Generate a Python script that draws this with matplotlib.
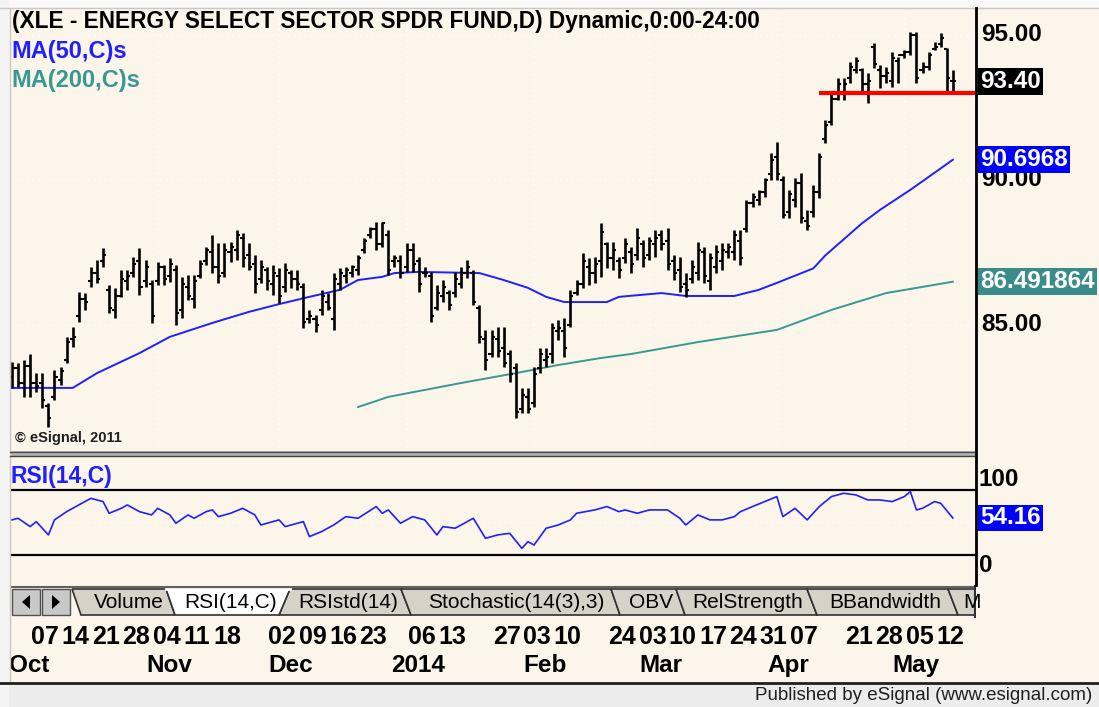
import matplotlib

matplotlib.use("Agg")
import matplotlib.pyplot as plt
import numpy as np
import pandas as pd
from matplotlib.patches import Polygon, Rectangle
from matplotlib.transforms import blended_transform_factory

plt.rcParams["font.family"] = ["Liberation Sans", "DejaVu Sans"]

# ---- data --------------------------------------------------------------------
FIRST_DAY, LAST_DAY = "2013-09-30", "2014-05-13"
HOLIDAYS = ["2013-11-28", "2013-12-25", "2014-01-01", "2014-01-20", "2014-02-17", "2014-04-18"]

highs = [
    83.74, 83.68, 83.79, 84.00, 83.33, 83.33, 82.30, 83.45, 83.56, 84.60,
    84.94, 86.15, 86.09, 87.01, 87.24, 87.64, 86.38, 86.26, 86.90, 86.90,
    87.36, 87.64, 87.24, 86.55, 87.18, 87.07, 87.30, 87.07, 86.67, 86.72,
    86.72, 87.24, 87.70, 88.10, 87.82, 87.82, 87.87, 88.28, 88.16, 87.82,
    87.41, 87.24, 87.01, 87.07, 86.95, 87.13, 86.90, 86.90, 86.44, 85.52,
    85.34, 86.21, 86.09, 86.78, 86.95, 87.01, 87.07, 87.41, 87.99, 88.39,
    88.56, 88.56, 88.28, 87.41, 87.41, 87.82, 87.82, 87.36, 87.01, 86.84,
    86.38, 86.55, 86.21, 86.84, 87.01, 87.24, 86.90, 85.69, 84.83, 84.83,
    84.94, 84.94, 84.14, 83.68, 82.82, 82.82, 83.56, 84.20, 84.20, 85.06,
    85.17, 85.23, 86.21, 86.55, 87.47, 87.30, 87.36, 88.51, 87.87, 87.87,
    87.36, 87.99, 87.70, 88.33, 87.93, 88.05, 88.27, 88.27, 88.33, 87.41,
    87.36, 86.78, 87.24, 87.87, 87.70, 87.47, 87.76, 87.82, 87.82, 88.27,
    88.27, 89.31, 89.54, 89.66, 90.06, 90.92, 91.32, 90.12, 89.66, 90.06,
    90.23, 88.97, 89.83, 90.92, 92.07, 92.99, 93.51, 93.51, 94.08, 94.25,
    93.85, 93.68, 94.71, 93.97, 93.91, 94.42, 94.25, 94.48, 95.11, 95.11,
    94.08, 94.42, 94.77, 95.06, 94.54, 93.79,
]
lows = [
    82.82, 82.87, 82.53, 82.53, 82.70, 82.13, 81.49, 82.41, 82.93, 83.68,
    84.25, 85.11, 85.52, 86.32, 86.44, 87.01, 85.40, 85.23, 85.98, 86.21,
    86.67, 86.03, 86.32, 85.06, 86.38, 86.38, 86.49, 85.00, 85.23, 85.86,
    85.57, 86.61, 87.07, 86.78, 86.44, 86.67, 87.18, 87.24, 87.01, 86.90,
    86.09, 86.44, 86.21, 86.03, 85.75, 86.15, 86.26, 86.21, 84.88, 85.06,
    84.77, 85.34, 85.52, 84.83, 86.21, 86.44, 86.67, 86.72, 87.47, 87.99,
    87.59, 87.70, 86.72, 87.01, 86.61, 86.84, 86.84, 86.15, 86.67, 85.11,
    85.52, 85.80, 85.52, 85.98, 86.26, 86.61, 85.69, 84.37, 83.45, 83.91,
    83.91, 83.56, 83.05, 81.78, 81.95, 81.95, 82.18, 83.33, 83.56, 83.68,
    84.48, 83.91, 84.94, 86.03, 86.26, 86.38, 86.44, 86.67, 86.95, 86.90,
    86.61, 87.13, 86.78, 87.24, 87.01, 87.24, 87.36, 87.59, 86.90, 86.55,
    86.15, 85.98, 86.44, 86.55, 86.44, 86.21, 86.78, 86.90, 87.30, 87.24,
    87.07, 88.22, 89.08, 89.14, 89.43, 90.00, 90.00, 88.68, 88.68, 89.08,
    88.51, 88.28, 88.74, 89.37, 91.26, 91.90, 92.76, 92.76, 93.33, 93.68,
    92.99, 92.64, 93.85, 93.16, 93.33, 93.22, 93.33, 94.20, 94.31, 93.33,
    93.68, 93.79, 94.48, 94.60, 92.99, 92.99,
]
opens = [
    83.2, 83.5, 83.0, 83.6, 83.0, 83.0, 82.2, 82.5, 83.1, 83.8,
    84.5, 85.3, 85.9, 86.5, 86.8, 87.2, 86.2, 85.5, 86.0, 86.5,
    86.8, 87.2, 86.5, 86.4, 86.5, 87.0, 86.7, 86.9, 85.5, 86.3,
    85.9, 86.7, 87.2, 87.5, 87.0, 86.8, 87.5, 87.6, 88.0, 87.4,
    87.1, 86.6, 86.9, 86.4, 86.7, 86.3, 86.8, 86.6, 86.3, 85.2,
    85.2, 85.5, 85.8, 85.2, 86.4, 86.7, 86.8, 86.9, 87.6, 88.1,
    88.3, 87.8, 88.1, 87.2, 87.2, 87.0, 87.6, 87.2, 86.8, 86.7,
    85.6, 86.0, 86.1, 86.1, 86.4, 86.8, 86.8, 85.6, 84.5, 84.0,
    84.5, 84.2, 84.0, 83.5, 82.1, 82.5, 82.3, 83.5, 83.8, 84.0,
    84.8, 84.8, 85.0, 86.1, 86.4, 87.0, 86.8, 87.2, 87.8, 87.3,
    87.2, 87.3, 87.5, 87.4, 87.8, 87.4, 87.8, 88.1, 87.9, 87.2,
    86.9, 86.4, 86.6, 86.8, 87.5, 86.5, 87.0, 87.2, 87.5, 87.5,
    87.9, 88.3, 89.2, 89.3, 89.6, 90.2, 90.8, 90.0, 88.9, 89.3,
    89.9, 88.6, 88.9, 89.6, 91.4, 92.0, 92.8, 93.0, 93.5, 93.8,
    93.8, 93.3, 94.6, 93.8, 93.6, 93.4, 94.1, 94.3, 94.4, 95.0,
    93.8, 93.9, 94.5, 94.7, 94.5, 93.4,
]
closes = [
    83.5, 83.0, 83.6, 83.0, 82.9, 82.4, 81.8, 83.2, 83.4, 84.4,
    84.6, 85.9, 85.8, 86.8, 86.6, 87.4, 85.6, 86.0, 86.6, 86.7,
    87.1, 86.3, 87.0, 85.3, 87.0, 86.6, 87.1, 85.4, 86.4, 86.0,
    86.5, 87.1, 87.6, 87.0, 86.7, 87.6, 87.7, 88.1, 87.3, 87.0,
    86.4, 87.0, 86.5, 86.8, 86.0, 86.9, 86.6, 86.4, 85.1, 85.3,
    85.0, 86.0, 85.6, 86.6, 86.8, 86.9, 87.0, 87.3, 87.9, 88.3,
    87.8, 88.5, 86.9, 87.3, 86.8, 87.6, 87.1, 86.4, 86.8, 85.3,
    86.1, 86.3, 85.7, 86.6, 86.8, 87.0, 85.8, 84.6, 83.8, 84.6,
    84.1, 83.7, 83.3, 82.0, 82.6, 82.1, 83.3, 84.0, 83.9, 84.9,
    84.9, 84.2, 86.0, 86.4, 87.2, 86.8, 87.1, 88.2, 87.3, 87.6,
    86.9, 87.8, 87.1, 88.0, 87.3, 87.9, 88.0, 87.8, 87.1, 86.8,
    86.3, 86.2, 87.0, 87.6, 86.7, 87.3, 87.5, 87.6, 87.7, 88.1,
    87.3, 89.2, 89.4, 89.6, 90.0, 90.7, 90.2, 88.8, 89.5, 89.9,
    88.7, 88.4, 89.6, 90.8, 91.9, 92.8, 93.3, 93.3, 93.9, 94.1,
    93.3, 93.4, 94.0, 93.6, 93.7, 94.2, 94.3, 94.4, 95.0, 93.5,
    93.9, 94.3, 94.6, 94.9, 93.5, 93.40,
]

ma50_bars = [0, 10, 14, 21, 26, 33, 39, 44, 49, 54, 57, 61, 63, 67, 77, 81,
             85, 88, 91, 98, 100, 107, 111, 119, 123, 126, 132, 134, 140, 143, 148, 155]
ma50_vals = [82.83, 82.83, 83.34, 84.03, 84.59, 85.07, 85.45, 85.72, 85.97, 86.21,
             86.55, 86.66, 86.79, 86.83, 86.79, 86.55, 86.28, 85.97, 85.79, 85.79,
             85.97, 86.10, 86.00, 86.00, 86.21, 86.45, 86.95, 87.40, 88.50, 88.97,
             89.66, 90.6968]
ma200_bars = [57, 62, 74, 83, 90, 97, 102, 113, 126, 135, 144, 155]
ma200_vals = [82.17, 82.52, 83.00, 83.34, 83.62, 83.86, 84.00, 84.41, 84.83, 85.52,
              86.10, 86.491864]

rsi_bars = [0, 1, 3, 4, 6, 7, 9, 11, 13, 15, 16, 18, 19, 21, 23, 24, 26, 27, 29, 30,
            32, 33, 34, 36, 38, 40, 41, 44, 45, 48, 49, 51, 53, 55, 57, 60, 61, 62, 64, 66,
            68, 70, 71, 73, 74, 76, 78, 80, 82, 84, 85, 86, 88, 90, 92, 93, 96, 98, 100, 101,
            103, 105, 108, 110, 111, 113, 115, 117, 119, 120, 122, 124, 126, 127, 129, 131, 133, 135, 137, 139,
            141, 143, 145, 147, 148, 149, 150, 152, 153, 155]
rsi_vals = [52.4, 53.9, 46.2, 50.8, 38.5, 52.4, 60.0, 66.2, 72.3, 69.3, 58.5, 63.1, 66.2, 60.0, 57.0, 63.1, 57.0, 49.3, 57.0, 53.9,
            60.0, 61.6, 55.4, 58.5, 63.1, 57.0, 47.7, 52.4, 46.2, 50.8, 37.0, 41.6, 47.7, 55.4, 53.9, 64.7, 58.5, 61.6, 49.3, 55.4,
            52.4, 38.5, 46.2, 44.7, 47.7, 53.9, 35.4, 38.5, 40.0, 26.1, 32.3, 29.2, 44.7, 47.7, 52.4, 58.5, 61.6, 64.7, 60.0, 61.6,
            58.5, 61.6, 61.6, 54.0, 47.7, 57.0, 52.4, 52.4, 55.4, 60.0, 64.7, 69.3, 73.9, 55.4, 63.1, 52.4, 64.7, 73.9, 77.0, 75.5,
            70.8, 70.8, 69.3, 73.9, 78.5, 61.6, 63.1, 69.3, 67.7, 54.16]
rsi_bands = [80, 20]

support_level = 93.0
support_from = "2014-04-10"
last_close = 93.40

day_ticks = ["2013-10-07", "2013-10-14", "2013-10-21", "2013-10-28", "2013-11-04", "2013-11-11",
             "2013-11-18", "2013-12-02", "2013-12-09", "2013-12-16", "2013-12-23", "2014-01-06",
             "2014-01-13", "2014-01-27", "2014-02-03", "2014-02-10", "2014-02-24", "2014-03-03",
             "2014-03-10", "2014-03-17", "2014-03-24", "2014-03-31", "2014-04-07", "2014-04-21",
             "2014-04-28", "2014-05-05", "2014-05-12"]
month_labels = ["Oct", "Nov", "Dec", "2014", "Feb", "Mar", "Apr", "May"]
price_ticks = [95.0, 90.0, 85.0]
tab_names = ["Volume", "RSI(14,C)", "RSIstd(14)", "Stochastic(14(3),3)", "OBV",
             "RelStrength", "BBandwidth", "M"]

# ---- layout ------------------------------------------------------------------
W, H = 1099, 707
CREAM = "#FCF6EA"
BLUE = "#1F1FFF"
TEAL = "#3A9893"
BAR_PX, BAR0_PX = 6.07, 12.0
LEFT_PX, RIGHT_PX = 10, 976

dates = pd.bdate_range(FIRST_DAY, LAST_DAY)
dates = dates[~dates.isin(pd.to_datetime(HOLIDAYS))]
idx = np.arange(len(dates))
xlim = ((LEFT_PX - BAR0_PX) / BAR_PX, (RIGHT_PX - BAR0_PX) / BAR_PX)

fig = plt.figure(figsize=(W / 100, H / 100), dpi=100)
fig.patch.set_facecolor(CREAM)


def px_axes(x0, y0, x1, y1, zorder=1):
    ax = fig.add_axes([x0 / W, 1 - y1 / H, (x1 - x0) / W, (y1 - y0) / H], zorder=zorder)
    return ax


bg = px_axes(0, 0, W, H, zorder=0)
bg.set_xlim(0, W)
bg.set_ylim(H, 0)
bg.axis("off")
bg.add_patch(Rectangle((0, 0), W, 7, fc="#FAFAFA", ec="none"))
bg.add_patch(Rectangle((0, 0), 9, H, fc="#F4F4F4", ec="none"))
bg.add_patch(Rectangle((9, 684), W, 30, fc="#ECECEC", ec="none"))

# ---- price panel ----------------------------------------------------------------
ax_p = px_axes(LEFT_PX, 8, RIGHT_PX, 452)
ax_p.set_facecolor(CREAM)
ax_p.set_xlim(*xlim)
ax_p.set_ylim(80.62, 95.93)
ax_p.axis("off")
ax_p.patch.set_visible(True)

# first trading day of each month (Oct 1 is the first one after Sep 30)
month_start = [i for i in idx[1:] if dates[i].month != dates[i - 1].month]
for lvl in price_ticks:
    ax_p.axhline(lvl, color="white", lw=1, ls=(0, (1, 3)), zorder=0)
for i in month_start[1:]:
    ax_p.axvline(i, color="white", lw=1, ls=(0, (1, 3)), zorder=0)

ax_p.vlines(idx, lows, highs, color="black", lw=1.9, zorder=3)
ax_p.hlines(opens, idx - 0.5, idx, color="black", lw=1.5, zorder=3)
ax_p.hlines(closes, idx, idx + 0.5, color="black", lw=1.5, zorder=3)
ax_p.plot(ma50_bars, ma50_vals, color=BLUE, lw=1.4, zorder=2)
ax_p.plot(ma200_bars, ma200_vals, color=TEAL, lw=1.4, zorder=2)
sup_i = int(np.searchsorted(dates, pd.Timestamp(support_from)))
ax_p.hlines(support_level, sup_i, xlim[1], color="#FF0000", lw=3, zorder=4)

# ---- RSI panel ------------------------------------------------------------------
ax_r = px_axes(LEFT_PX, 456, RIGHT_PX, 584)
ax_r.set_facecolor(CREAM)
ax_r.set_xlim(*xlim)
ax_r.set_ylim(-6.8, 111.4)
ax_r.axis("off")
ax_r.patch.set_visible(True)
ax_r.axhline(50, color="white", lw=1, ls=(0, (1, 3)), zorder=0)
for b in rsi_bands:
    ax_r.axhline(b, color="black", lw=1.6, zorder=1)
ax_r.plot(rsi_bars, rsi_vals, color=BLUE, lw=1.2, zorder=2)

# ---- overlay: frame, labels -----------------------------------------------------
ov = px_axes(0, 0, W, H, zorder=5)
ov.set_xlim(0, W)
ov.set_ylim(H, 0)
ov.axis("off")
ov.plot([0, W], [7.5, 7.5], color="#C8C8C8", lw=1)
ov.plot([9.5, 9.5], [8, 684], color="#C8C8C8", lw=1)
ov.add_patch(Rectangle((LEFT_PX, 451), RIGHT_PX - LEFT_PX, 5, fc="#B4B4B4", ec="none"))
ov.plot([LEFT_PX, RIGHT_PX], [451.5, 451.5], color="#505050", lw=1)
ov.plot([LEFT_PX, RIGHT_PX], [455.5, 455.5], color="#404040", lw=1)
ov.plot([RIGHT_PX, RIGHT_PX], [8, 585], color="black", lw=2)
ov.plot([0, W], [683, 683], color="#202020", lw=2)

bold = dict(fontweight="bold")
ov.text(12, 28, "(XLE - ENERGY SELECT SECTOR SPDR FUND,D) Dynamic,0:00-24:00",
        fontsize=16.3, color="black", va="baseline", **bold)
ov.text(11, 58, "MA(50,C)s", fontsize=17, color=BLUE, va="baseline", **bold)
ov.text(11, 87, "MA(200,C)s", fontsize=17, color=TEAL, va="baseline", **bold)
ov.text(11, 483, "RSI(14,C)", fontsize=16.5, color=BLUE, va="baseline", **bold)
ov.text(15, 438, "\u00a9 eSignal, 2011", fontsize=10.5, color="#202020", va="center", **bold)
ov.text(1092, 696, "Published by eSignal (www.esignal.com)", fontsize=13.5,
        color="#202020", ha="right", va="center")

tr_p = blended_transform_factory(ov.transData, ax_p.transData)
tr_r = blended_transform_factory(ov.transData, ax_r.transData)
for lvl in price_ticks:
    ov.text(981, lvl, f"{lvl:.2f}", transform=tr_p, fontsize=17.5, va="center", **bold)
ov.text(979, 100, "100", transform=tr_r, fontsize=17.5, va="top", **bold)
ov.text(979, 0, "0", transform=tr_r, fontsize=17.5, va="bottom", **bold)

box = dict(boxstyle="square,pad=0.08", ec="none")
ov.text(980, last_close, f"{last_close:.2f}", transform=tr_p, fontsize=17.5, va="center",
        color="white", bbox=dict(box, fc="black"), zorder=6, **bold)
ov.text(980, ma50_vals[-1], f"{ma50_vals[-1]:.4f}", transform=tr_p, fontsize=17.5,
        va="center", color="white", bbox=dict(box, fc="#0000FF"), zorder=6, **bold)
ov.text(980, ma200_vals[-1], f"{ma200_vals[-1]:.6f}", transform=tr_p, fontsize=17.5,
        va="center", color="white", bbox=dict(box, fc="#3A8C8A"), zorder=6, **bold)
ov.text(980, rsi_vals[-1], f"{rsi_vals[-1]:.2f}", transform=tr_r, fontsize=17.5,
        va="center", color="white", bbox=dict(box, fc="#0000FF"), zorder=6, **bold)

# ---- tab strip --------------------------------------------------------------------
ax_t = px_axes(LEFT_PX, 585, RIGHT_PX, 618, zorder=4)
ax_t.set_xlim(LEFT_PX, RIGHT_PX)
ax_t.set_ylim(618, 585)
ax_t.axis("off")
ax_t.plot([LEFT_PX, RIGHT_PX], [586.5, 586.5], color="#606060", lw=1.5)
for x0 in (12, 42):
    ax_t.add_patch(Rectangle((x0, 589), 28, 26, fc="#C8C8C8", ec="#505050", lw=1))
ax_t.add_patch(Polygon([(30, 595), (30, 609), (22, 602)], fc="black", ec="none"))
ax_t.add_patch(Polygon([(52, 595), (52, 609), (60, 602)], fc="black", ec="none"))

tab_shapes = [
    [(72, 589), (166, 589), (175, 615), (81, 615)],
    [(166, 589), (290, 589), (279, 615), (175, 615)],
    [(290, 589), (401, 589), (411, 615), (279, 615)],
    [(401, 589), (611, 589), (620, 615), (411, 615)],
    [(611, 589), (676, 589), (685, 615), (620, 615)],
    [(676, 589), (807, 589), (817, 615), (685, 615)],
    [(807, 589), (948, 589), (958, 615), (817, 615)],
    [(948, 589), (1000, 589), (1000, 615), (958, 615)],
]
tab_text_x = [129, 231, 348, 516, 651, 748, 885, 972]
active = 1
for k, (name, shape, tx) in enumerate(zip(tab_names, tab_shapes, tab_text_x)):
    if k == active:
        continue
    ax_t.add_patch(Polygon(shape, fc="#D6D2C8", ec="#303030", lw=1.2))
    ax_t.text(tx, 603, name, fontsize=15, ha="center", va="center")
ax_t.add_patch(Polygon(tab_shapes[active], fc="white", ec="#303030", lw=1.2, zorder=3))
ax_t.plot([tab_shapes[active][0][0], tab_shapes[active][1][0]], [589, 589],
          color="white", lw=2, zorder=4)
ax_t.text(tab_text_x[active], 603, tab_names[active], fontsize=15, ha="center",
          va="center", zorder=5)
ax_t.plot([975, 975], [586, 617], color="#303030", lw=1.5)

# ---- date labels ------------------------------------------------------------------
ax_d = px_axes(LEFT_PX, 618, RIGHT_PX, 683, zorder=4)
ax_d.set_xlim(*xlim)
ax_d.set_ylim(65, 0)
ax_d.axis("off")
for d in day_ticks:
    i = int(np.searchsorted(dates, pd.Timestamp(d)))
    ax_d.text(i + 0.5, 26, f"{dates[i].day:02d}", fontsize=18, ha="center", va="baseline", **bold)
for label, i in zip(month_labels, month_start):
    ax_d.text(i + 1.9, 54, label, fontsize=17.5, ha="center", va="baseline", **bold)

fig.savefig("out.png", dpi=100, facecolor=CREAM)
